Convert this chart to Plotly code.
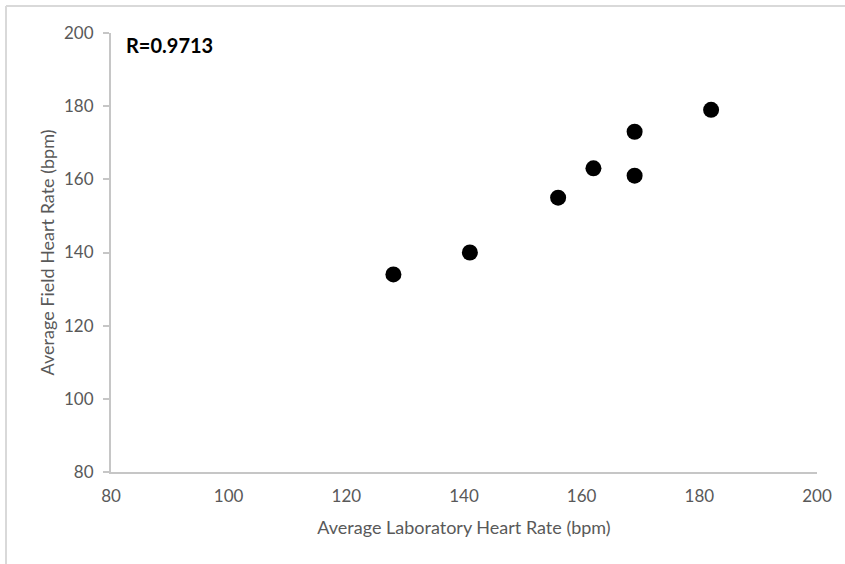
import plotly.graph_objects as go

lab_hr = [128, 141, 156, 162, 169, 169, 182]
field_hr = [134, 140, 155, 163, 173, 161, 179]
x_ticks = [80, 100, 120, 140, 160, 180, 200]
y_ticks = [80, 100, 120, 140, 160, 180, 200]
r_label = "R=0.9713"

fig = go.Figure()
fig.add_trace(go.Scatter(
    x=lab_hr, y=field_hr, mode="markers",
    marker=dict(color="black", size=16, line=dict(width=0)),
    showlegend=False,
))

font_family = "Lato, Carlito, 'Open Sans', sans-serif"
axis_col = "#c6c6c6"
tick_col = "#595959"

fig.update_layout(
    width=845, height=564,
    margin=dict(l=111, r=28, t=33, b=92),
    paper_bgcolor="white", plot_bgcolor="white",
    font=dict(family=font_family, color=tick_col),
    xaxis=dict(
        range=[80, 200], tickvals=x_ticks, ticktext=[str(v) for v in x_ticks],
        showgrid=False, zeroline=False, showline=True, linecolor=axis_col, linewidth=2,
        ticks="", ticklabelstandoff=8, tickfont=dict(size=17, color=tick_col),
        title=dict(text="Average Laboratory Heart Rate (bpm)", font=dict(size=18, color=tick_col), standoff=16),
    ),
    yaxis=dict(
        range=[80, 200], tickvals=y_ticks, ticktext=[str(v) for v in y_ticks],
        showgrid=False, zeroline=False, showline=True, linecolor=axis_col, linewidth=2,
        ticks="outside", ticklen=6, tickcolor=axis_col, tickwidth=1.5,
        tickfont=dict(size=17, color=tick_col), ticklabelstandoff=6,
        title=dict(text="Average Field Heart Rate (bpm)", font=dict(size=18, color=tick_col), standoff=5),
    ),
    annotations=[dict(
        text="<b>" + r_label + "</b>", xref="paper", yref="paper",
        x=0.018, y=0.9727, xanchor="left", yanchor="middle", showarrow=False,
        font=dict(size=20, color="black", family=font_family),
    )],
    shapes=[
        dict(type="line", xref="paper", yref="paper", x0=-0.1487, x1=1.05, y0=1.0615, y1=1.0615,
             line=dict(color="#d9d9d9", width=2)),
        dict(type="line", xref="paper", yref="paper", x0=-0.1487, x1=-0.1487, y0=1.0615, y1=-0.25,
             line=dict(color="#d9d9d9", width=2)),
    ],
)

fig.write_html("out.html")
